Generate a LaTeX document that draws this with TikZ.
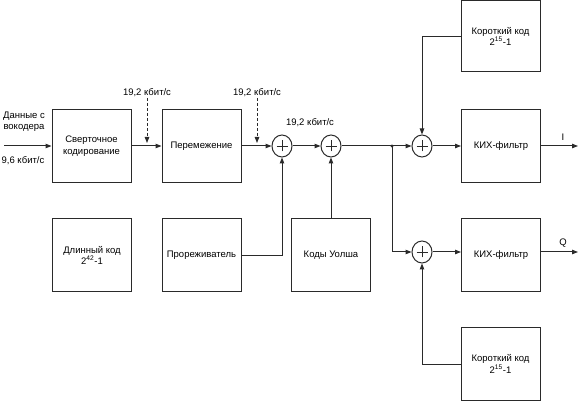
\documentclass[tikz,border=0pt]{standalone}
\usepackage{fontspec}
\setmainfont{Liberation Sans}
\usetikzlibrary{arrows.meta}
\definecolor{ln}{HTML}{2A2A2A}
\tikzset{
  blk/.style={draw=ln, line width=1pt, minimum width=79pt, minimum height=73pt, align=center, inner sep=1pt, font=\fontsize{9.5}{11.5}\selectfont},
  lbl/.style={font=\fontsize{9.5}{11}\selectfont, inner sep=0.5pt, align=center},
  adder/.style={draw=ln, ellipse, line width=1pt, minimum width=20pt, minimum height=22pt, inner sep=0pt,
    path picture={\draw[ln, line width=0.8pt] (path picture bounding box.center) ++(-5.5pt,0) -- ++(11pt,0)
      (path picture bounding box.center) ++(0,-5.5pt) -- ++(0,11pt);}},
  con/.style={draw=ln, line width=1pt},
  arr/.style={con, -{Triangle[length=6pt,width=4.5pt]}},
  darr/.style={arr, dashed, dash pattern=on 3pt off 2pt},
}
\usetikzlibrary{shapes.geometric}
\begin{document}
\begin{tikzpicture}[x=1pt,y=-1pt]
\useasboundingbox (0,0) rectangle (581,403);
% blocks
\node[blk] (conv) at (91.5,146) {Сверточное\\кодирование};
\node[blk] (inter) at (201.5,146) {Перемежение};
\node[blk] (long) at (92,255.5) {Длинный код\\2\textsuperscript{42}-1};
\node[blk] (decim) at (201.5,255.5) {Прореживатель};
\node[blk] (walsh) at (331,255.5) {Коды Уолша};
\node[blk] (firI) at (501,146) {КИХ-фильтр};
\node[blk] (firQ) at (501,255.5) {КИХ-фильтр};
\node[blk, minimum height=71pt] (shortI) at (500.5,36.5) {Короткий код\\2\textsuperscript{15}-1};
\node[blk, minimum height=72pt] (shortQ) at (500.5,364) {Короткий код\\2\textsuperscript{15}-1};
% adders
\node[adder] (a1) at (282,146) {};
\node[adder] (a2) at (331,146) {};
\node[adder] (aI) at (422,146) {};
\node[adder] (aQ) at (422,252) {};
% coordinates
\coordinate (in) at (4,146);
\coordinate (j) at (392,146);
\coordinate (oI) at (578,146);
\coordinate (oQ) at (578,252);
\coordinate (t1) at (147,143);
\coordinate (t2) at (257,143);
% labels
\node[lbl] (din) at (24,122) {Данные с\\вокодера};
\node[lbl] (drate) at (23,161) {9,6 кбит/с};
\node[lbl] (r1) at (147,93) {19,2 кбит/с};
\node[lbl] (r2) at (257,93) {19,2 кбит/с};
\node[lbl] (r3) at (310,123) {19,2 кбит/с};
\node[lbl] (lI) at (563,137) {I};
\node[lbl] (lQ) at (563,243) {Q};
% connectors
\draw[arr] (in) -- (conv.west);
\draw[arr] (conv.east) -- (inter.west);
\draw[arr] (inter.east) -- (a1.west);
\draw[arr] (a1.east) -- (a2.west);
\draw[con] (a2.east) -- (j);
\draw[arr] (j) -- (aI.west);
\draw[arr] (j) |- (aQ.west);
\fill[ln] (j) circle (1.6pt);
\draw[arr] (aI.east) -- (firI.west);
\draw[arr] (aQ.east) -- (aQ -| firQ.west);
\draw[arr] (firI.east) -- (oI);
\draw[arr] (firQ.east |- aQ) -- (oQ);
\draw[arr] (decim.east) -| (a1.south);
\draw[arr] (walsh.north) -- (a2.south);
\draw[arr] (shortI.west) -| (aI.north);
\draw[arr] (shortQ.west) -| (aQ.south);
\draw[darr] (r1.south) -- (t1);
\draw[darr] (r2.south) -- (t2);
\end{tikzpicture}
\end{document}
